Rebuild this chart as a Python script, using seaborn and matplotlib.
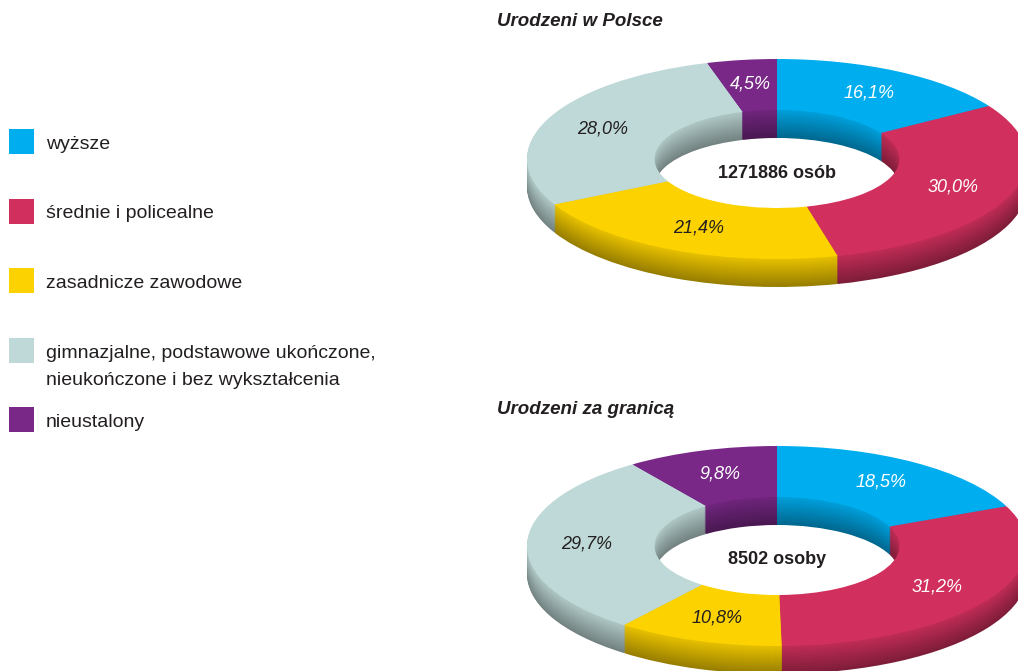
import numpy as np
import matplotlib
matplotlib.use('Agg')
import matplotlib.pyplot as plt
import seaborn as sns
from matplotlib.colors import to_rgb

categories = ['wyższe', 'średnie i policealne', 'zasadnicze zawodowe',
              'gimnazjalne, podstawowe ukończone,\nnieukończone i bez wykształcenia',
              'nieustalony']
born_poland = [16.1, 30.0, 21.4, 28.0, 4.5]
born_abroad = [18.5, 31.2, 10.8, 29.7, 9.8]
titles = ['Urodzeni w Polsce', 'Urodzeni za granicą']
totals = ['1271886 osób', '8502 osoby']

palette = sns.color_palette(['#00aeef', '#d1305e', '#fcd200', '#bed9d7', '#7a2888'])
label_colors = ['white', 'white', '#231f20', '#231f20', 'white']
text_color = '#231f20'

sns.set_theme(style='white')
plt.rcParams['font.family'] = ['Liberation Sans', 'DejaVu Sans']

W, H = 1018, 671
fig = plt.figure(figsize=(W / 100, H / 100), dpi=100)

# full-figure axes in pixel units for legend and titles
lax = fig.add_axes([0, 0, 1, 1])
lax.set_xlim(0, W)
lax.set_ylim(H, 0)
lax.axis('off')

for i, (cat, col) in enumerate(zip(categories, palette)):
    y = 141 + 69.5 * i
    lax.scatter(21.5, y, marker='s', s=324, color=col, linewidths=0)
    # first line level with the square, further lines go below it
    lax.text(46, y - 5, cat, fontsize=14, color=text_color, va='top',
             linespacing=1.8)


def shade(c, f):
    return tuple(np.array(to_rgb(c)) * f)


def donut(cy, values, title, total):
    ax = fig.add_axes([452 / W, (H - cy - 150) / H, 650 / W, 280 / H])
    depth, steps = 0.28, 28
    # side walls: stacked darker copies
    for k in range(steps, 0, -1):
        f = 0.6 + 0.32 * (1 - k / steps)
        ax.pie(values, colors=[shade(c, f) for c in palette],
               startangle=90, counterclock=False,
               center=(0, -depth * k / steps),
               wedgeprops=dict(width=0.51, linewidth=0))
    wedges, _, autotexts = ax.pie(
        values, colors=palette, startangle=90, counterclock=False,
        autopct=lambda p: f'{p:.1f}%'.replace('.', ','), pctdistance=0.76,
        wedgeprops=dict(width=0.51, linewidth=0),
        textprops=dict(fontsize=13, fontstyle='italic'))
    for t, c in zip(autotexts, label_colors):
        t.set_color(c)
    ax.text(0, -0.14, total, ha='center', va='center', fontsize=13,
            fontweight='bold', color=text_color)
    ax.set_aspect('auto')
    ax.set_xlim(-1.3, 1.3)
    ax.set_ylim(-1.5, 1.3)
    ax.axis('off')
    lax.text(497, cy - 137, title, fontsize=13.5, fontweight='bold',
             fontstyle='italic', color=text_color, va='center')


donut(159, born_poland, titles[0], totals[0])
donut(546, born_abroad, titles[1], totals[1])

fig.savefig('out.png', dpi=100)
